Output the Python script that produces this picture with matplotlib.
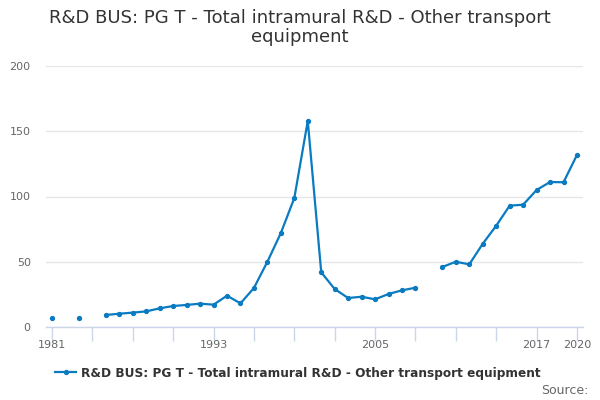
import numpy as np
import matplotlib
matplotlib.use("Agg")
import matplotlib.pyplot as plt

# R&D spend, other transport equipment (NaN = no data)
years = list(range(1981, 2021))
values = [7.1, np.nan, 7.1, np.nan, 9.2, 10.2, 11.0, 12.0, 14.3, 16.1,
          16.9, 17.9, 17.1, 24.0, 18.1, 29.9, 50.0, 72.0, 98.8, 157.9,
          41.9, 29.1, 22.2, 23.2, 21.2, 25.3, 28.1, 30.1, np.nan, 46.0,
          50.0, 48.0, 63.8, 77.6, 93.0, 93.7, 105.0, 111.1, 110.9, 131.8]
tick_years = list(range(1981, 2021, 3))
label_years = [1981, 1993, 2005, 2017, 2020]
y_ticks = [0, 50, 100, 150, 200]

title = "R&D BUS: PG T - Total intramural R&D - Other transport equipment"
line_color = "#0a7bc1"
axis_color = "#ccd6eb"
grid_color = "#e6e6e6"
text_color = "#666666"

fig = plt.figure(figsize=(6, 4), dpi=100)
ax = fig.add_axes([46 / 600, 1 - 327 / 400, 537 / 600, 261 / 400])

ax.plot(years, values, color=line_color, linewidth=1.6, marker="o",
        markersize=2.8, label=title, zorder=3)

ax.set_xlim(1981 - 6 / 13.4, 2020 + 6 / 13.4)
ax.set_ylim(0, 200)

ax.set_yticks(y_ticks)
ax.set_yticklabels([str(v) for v in y_ticks])
ax.yaxis.grid(True, color=grid_color, linewidth=1)
ax.set_axisbelow(True)
ax.tick_params(axis="y", length=0, pad=11, labelsize=8, labelcolor=text_color)

all_ticks = sorted(set(tick_years) | set(label_years))
ax.set_xticks(all_ticks)
ax.set_xticklabels([str(y) if y in label_years else "" for y in all_ticks])
ax.tick_params(axis="x", direction="out", length=10, width=1, color=axis_color,
               labelsize=8, labelcolor=text_color, pad=-1)

for side in ["top", "right", "left"]:
    ax.spines[side].set_visible(False)
ax.spines["bottom"].set_color(axis_color)
ax.spines["bottom"].set_linewidth(1)

fig.text(0.5, 1 - 9 / 400, "R&D BUS: PG T - Total intramural R&D - Other transport\nequipment",
         ha="center", va="top", fontsize=13, color="#333333", linespacing=1.1)

leg = fig.legend(loc="center", bbox_to_anchor=(298 / 600, 1 - 373 / 400), frameon=False,
                 prop={"size": 8.75, "weight": "bold"}, handlelength=1.7,
                 handletextpad=0.4, labelcolor="#333333")

fig.text(588 / 600, 1 - 390 / 400, "Source:", ha="right", va="center",
         fontsize=9, color=text_color)

fig.savefig("out.png", dpi=100)
